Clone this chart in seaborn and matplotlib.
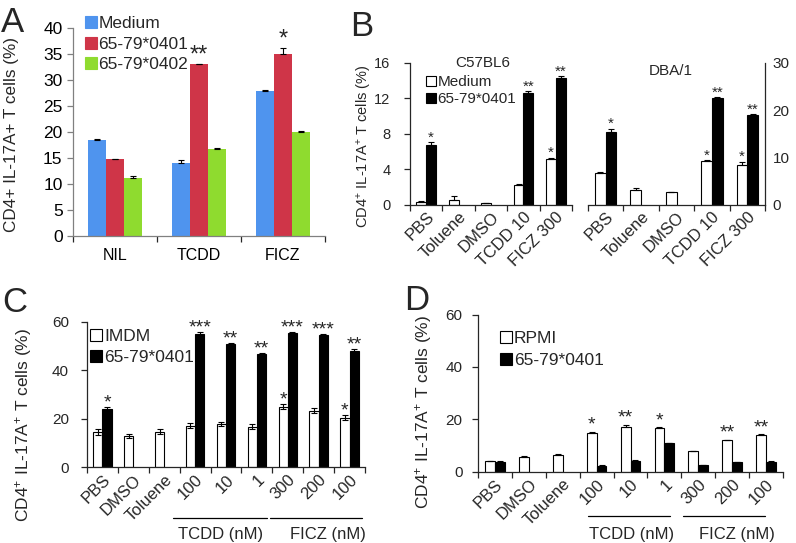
import numpy as np
import pandas as pd
import matplotlib
matplotlib.use("Agg")
import matplotlib.pyplot as plt
from matplotlib.lines import Line2D
import seaborn as sns

nan = np.nan

# ---- panel A ----
a_conds = ["NIL", "TCDD", "FICZ"]
a_series = ["Medium", "65-79*0401", "65-79*0402"]
a_medium = [18.4, 14.0, 27.9]
a_medium_err = [0.25, 0.7, 0.2]
a_0401 = [14.8, 33.0, 35.0]
a_0401_err = [0.1, 0.1, 1.2]
a_0402 = [11.2, 16.8, 20.0]
a_0402_err = [0.25, 0.2, 0.2]
a_stars = [["", "", ""], ["", "**", "*"], ["", "", ""]]

# ---- panel B ----
b_conds = ["PBS", "Toluene", "DMSO", "TCDD 10", "FICZ 300"]
b_series = ["Medium", "65-79*0401"]
b1_medium = [0.3, 0.5, 0.15, 2.2, 5.1]
b1_medium_err = [0.1, 0.5, 0.05, 0.1, 0.2]
b1_0401 = [6.7, nan, nan, 12.6, 14.3]
b1_0401_err = [0.4, 0, 0, 0.2, 0.25]
b1_stars = [["", "", "", "", "*"], ["*", "", "", "**", "**"]]
b2_medium = [6.7, 3.1, 2.7, 9.3, 8.4]
b2_medium_err = [0.1, 0.3, 0.05, 0.2, 0.7]
b2_0401 = [15.3, nan, nan, 22.6, 18.9]
b2_0401_err = [0.8, 0, 0, 0.2, 0.3]
b2_stars = [["", "", "", "*", "*"], ["*", "", "", "**", "**"]]

# ---- panels C and D ----
cd_conds = ["PBS", "DMSO", "Toluene", "TCDD 100", "TCDD 10", "TCDD 1",
            "FICZ 300", "FICZ 200", "FICZ 100"]
cd_ticklabels = ["PBS", "DMSO", "Toluene", "100", "10", "1", "300", "200", "100"]
c_series = ["IMDM", "65-79*0401"]
c_white = [14.4, 12.9, 14.7, 17.1, 17.8, 16.7, 24.9, 23.2, 20.4]
c_white_err = [1.2, 1.0, 1.0, 1.0, 1.0, 1.0, 1.0, 1.0, 1.0]
c_black = [24.0, nan, nan, 55.0, 50.8, 46.8, 55.3, 54.6, 47.9]
c_black_err = [0.8, 0, 0, 0.5, 0.3, 0.2, 0.3, 0.3, 0.8]
c_stars = [["", "", "", "", "", "", "*", "", "*"],
           ["*", "", "", "***", "**", "**", "***", "***", "**"]]
d_series = ["RPMI", "65-79*0401"]
d_white = [3.9, 5.8, 6.4, 14.9, 17.2, 16.8, 7.9, 12.0, 14.0]
d_white_err = [0.1, 0.3, 0.5, 0.2, 0.5, 0.1, 0.1, 0.2, 0.2]
d_black = [3.8, nan, nan, 2.3, 4.2, 10.8, 2.4, 3.6, 3.8]
d_black_err = [0.1, 0, 0, 0.1, 0.1, 0.1, 0.1, 0.1, 0.1]
d_stars = [["", "", "", "*", "**", "*", "", "**", "**"],
           ["", "", "", "", "", "", "", "", ""]]

W, H = 796, 543
sns.set_style("ticks")
plt.rcParams["font.family"] = ["Liberation Sans", "DejaVu Sans"]
plt.rcParams["mathtext.fontset"] = "custom"
plt.rcParams["mathtext.rm"] = "Liberation Sans"
plt.rcParams["mathtext.it"] = "Liberation Sans:italic"
plt.rcParams["mathtext.bf"] = "Liberation Sans:bold"
plt.rcParams["axes.linewidth"] = 0.9

fig = plt.figure(figsize=(W / 100, H / 100), dpi=100)


def px_axes(l, t, r, b):
    return fig.add_axes([l / W, 1 - b / H, (r - l) / W, (b - t) / H])


def draw_bars(ax, cats, names, vals, errs, stars, colors, width, lw,
              both_err=False, star_size=12, star_pad=0.0):
    rows = []
    for name, v in zip(names, vals):
        for c, y in zip(cats, v):
            if not np.isnan(y):
                rows.append({"cond": c, "series": name, "value": y})
    df = pd.DataFrame(rows)
    sns.barplot(data=df, x="cond", y="value", hue="series", order=cats,
                hue_order=names, palette=dict(zip(names, colors)),
                width=width, edgecolor="black", linewidth=lw, saturation=1,
                errorbar=None, legend=False, ax=ax)
    bar_conts = list(ax.containers)
    for i, cont in enumerate(bar_conts):
        for p in cont.patches:
            cx = p.get_x() + p.get_width() / 2
            k = int(round(cx))
            v, e = vals[i][k], errs[i][k]
            lo = e if both_err else 0
            ax.errorbar(cx, v, yerr=[[lo], [e]], fmt="none", ecolor="black",
                        elinewidth=0.8, capsize=2.5, capthick=0.8)
            if stars[i][k]:
                ax.text(cx, v + e + star_pad, stars[i][k], ha="center",
                        va="bottom", fontsize=star_size)
    ax.set_xlim(-0.5, len(cats) - 0.5)
    ax.set_xlabel("")
    ax.set_ylabel("")
    ax.set_xticks(np.arange(len(cats) + 1) - 0.5, minor=True)
    ax.tick_params(axis="x", which="major", length=0)
    ax.tick_params(axis="x", which="minor", length=4, width=0.9)
    ax.tick_params(axis="y", length=4, width=0.9)


def square_legend(ax, labels, faces, anchor, size, ms, spacing=0.3):
    handles = [Line2D([], [], marker="s", linestyle="none", markerfacecolor=f,
                      markeredgecolor="black" if f == "white" else f,
                      markeredgewidth=0.8, markersize=ms) for f in faces]
    ax.legend(handles, labels, loc="upper left", bbox_to_anchor=anchor,
              frameon=False, handlelength=0.6, handletextpad=0.15,
              labelspacing=spacing, borderpad=0, borderaxespad=0,
              fontsize=size)


ylab = "CD4$^{+}$ IL-17A$^{+}$ T cells (%)"

# ---- A ----
axA = px_axes(73, 28, 325, 236)
a_colors = ["#4f94ee", "#cf3548", "#8fdb2f"]
draw_bars(axA, a_conds, a_series, [a_medium, a_0401, a_0402],
          [a_medium_err, a_0401_err, a_0402_err], a_stars, a_colors,
          0.65, 0, star_size=17, star_pad=-0.6)
axA.set_ylim(0, 40)
axA.set_yticks(np.arange(0, 41, 5))
axA.set_xticks(range(3))
axA.set_xticklabels(a_conds)
axA.tick_params(axis="x", labelsize=11.5, pad=9)
axA.tick_params(axis="y", labelsize=12.5, pad=3.5)
for s in ["left", "bottom"]:
    axA.spines[s].set_color("#808080")
axA.tick_params(colors="#808080", labelcolor="black")
sns.despine(ax=axA)
axA.set_ylabel("CD4+ IL-17A+ T cells (%)", fontsize=12.3)
axA.yaxis.set_label_coords(-0.215, 0.49)
square_legend(axA, a_series, a_colors, (0.05, 1.057), 12.5, 8.5)

# ---- B ----
axB1 = px_axes(410, 63, 572, 204.5)
draw_bars(axB1, b_conds, b_series, [b1_medium, b1_0401],
          [b1_medium_err, b1_0401_err], b1_stars, ["white", "black"],
          0.6, 0.8, star_size=11, star_pad=-0.3)
axB1.set_ylim(0, 16)
axB1.set_yticks(np.arange(0, 17, 4))
sns.despine(ax=axB1)
axB1.text(0.45, 1.0, "C57BL6", transform=axB1.transAxes, ha="center",
          va="center", fontsize=11)
square_legend(axB1, b_series, ["white", "black"], (0.1, 0.915), 11, 7, 0.2)
axB1.set_ylabel(ylab, fontsize=10.5)
axB1.yaxis.set_label_coords(-0.225, 0.41)
axB1.tick_params(axis="y", labelsize=10.5, pad=10)

axB2 = px_axes(588, 63, 765, 204.5)
draw_bars(axB2, b_conds, b_series, [b2_medium, b2_0401],
          [b2_medium_err, b2_0401_err], b2_stars, ["white", "black"],
          0.6, 0.8, star_size=11, star_pad=-0.55)
axB2.set_ylim(0, 30)
axB2.set_yticks([0, 10, 20, 30])
axB2.yaxis.tick_right()
sns.despine(ax=axB2, left=True, right=False)
axB2.text(0.47, 0.945, "DBA/1", transform=axB2.transAxes, ha="center",
          va="center", fontsize=11)
axB2.tick_params(axis="y", labelsize=11, pad=1.5)
for ax in (axB1, axB2):
    ax.set_xticks(range(len(b_conds)))
    ax.set_xticklabels(b_conds, rotation=45, ha="right",
                       rotation_mode="anchor", fontsize=12)

# ---- C ----
axC = px_axes(87, 321.5, 365, 467.3)
draw_bars(axC, cd_conds, c_series, [c_white, c_black],
          [c_white_err, c_black_err], c_stars, ["white", "black"],
          0.6, 0.8, both_err=True, star_size=14, star_pad=-1.8)
axC.set_ylim(0, 60)
axC.set_yticks([0, 20, 40, 60])
square_legend(axC, c_series, ["white", "black"], (0.015, 0.95), 12.5, 8, 0.35)
axC.set_ylabel(ylab, fontsize=12.5)
axC.yaxis.set_label_coords(-0.19, 0.29)
axC.tick_params(axis="y", labelsize=11, pad=9)

# ---- D ----
axD = px_axes(478, 314.5, 783, 471.7)
draw_bars(axD, cd_conds, d_series, [d_white, d_black],
          [d_white_err, d_black_err], d_stars, ["white", "black"],
          0.58, 0.8, star_size=14, star_pad=-0.6)
axD.set_ylim(0, 60)
axD.set_yticks([0, 20, 40, 60])
square_legend(axD, d_series, ["white", "black"], (0.075, 0.897), 12.5, 8, 0.4)
axD.set_ylabel(ylab, fontsize=12.5)
axD.yaxis.set_label_coords(-0.145, 0.38)
axD.tick_params(axis="y", labelsize=11, pad=7)

for ax, line_y, text_y, spans, centers in [
        (axC, -0.348, -0.46, [(2.3, 5.33), (5.42, 8.4)], (3.84, 7.3)),
        (axD, -0.282, -0.40, [(2.74, 5.16), (5.55, 7.97)], (4.04, 7.14))]:
    sns.despine(ax=ax)
    ax.set_xticks(range(len(cd_conds)))
    ax.set_xticklabels(cd_ticklabels, rotation=45, ha="right",
                       rotation_mode="anchor", fontsize=12)
    tr = ax.get_xaxis_transform()
    for (x0, x1), xc, name in zip(spans, centers, ["TCDD (nM)", "FICZ (nM)"]):
        ax.plot([x0, x1], [line_y, line_y], color="black", lw=0.9,
                transform=tr, clip_on=False)
        ax.text(xc, text_y, name, transform=tr, ha="center", va="center",
                fontsize=12)

# panel letters
for letter, x, y in [("A", 1, 32), ("B", 350, 36), ("C", 2, 312), ("D", 404, 310)]:
    fig.text(x / W, 1 - y / H, letter, fontsize=25, va="baseline", ha="left")

fig.savefig("out.png", dpi=100)
